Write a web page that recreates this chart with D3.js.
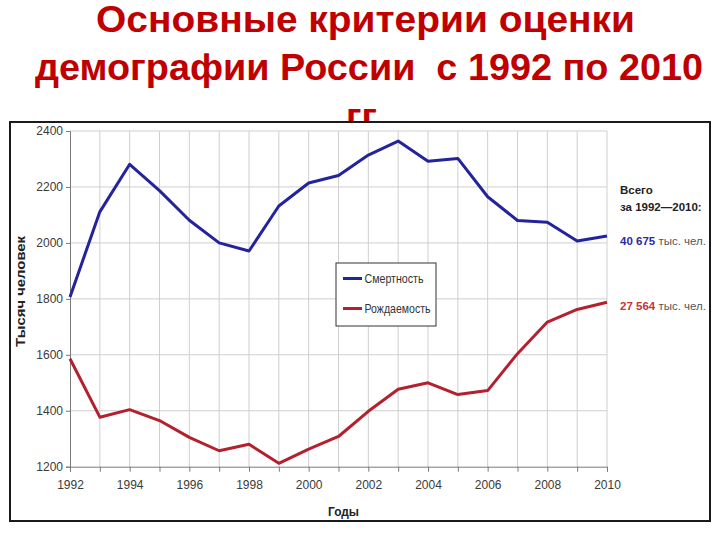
<!DOCTYPE html>
<html><head><meta charset="utf-8">
<script src="https://cdn.jsdelivr.net/npm/d3@7"></script>
<style>body{margin:0;background:#fff}svg{display:block}</style>
</head><body>
<script>
const years = d3.range(1992, 2011);
const mortality = [1807, 2111, 2281, 2187, 2081, 2000, 1971, 2132, 2214, 2241, 2314, 2364, 2292, 2302, 2165, 2080, 2074, 2007, 2025];
const births = [1586, 1377, 1404, 1365, 1305, 1257, 1280, 1212, 1263, 1308, 1398, 1477, 1500, 1458, 1472, 1604, 1717, 1762, 1788];
const yTicks = [1200, 1400, 1600, 1800, 2000, 2200, 2400];
const seriesNames = ["Смертность", "Рождаемость"];
const totals = ["40 675", "27 564"];
const titleLines = ["Основные критерии оценки", "демографии России  с 1992 по 2010", "гг."];

const W = 720, H = 540;
const svg = d3.select("body").append("svg").attr("width", W).attr("height", H);
const font = "'Liberation Sans', Arial, sans-serif";

// Title
const titleColor = "#c00000";
const tPos = [[96, 32, 539], [35, 80, 668], [346, 129, null]];
titleLines.forEach((t, i) => {
  const el = svg.append("text").attr("x", tPos[i][0]).attr("y", tPos[i][1])
    .attr("font-family", font).attr("font-weight", "bold").attr("xml:space", "preserve")
    .style("white-space", "pre")
    .attr("font-size", 37).attr("fill", titleColor).text(t);
  if (tPos[i][2]) el.attr("textLength", tPos[i][2]).attr("lengthAdjust", "spacingAndGlyphs");
});

// Chart frame
svg.append("rect").attr("x", 10).attr("y", 122).attr("width", 700).attr("height", 399)
  .attr("fill", "#fff").attr("stroke", "#1a1a1a").attr("stroke-width", 2);

const x = d3.scaleLinear().domain([1992, 2010]).range([70, 607]);
const y = d3.scaleLinear().domain([1200, 2400]).range([466.7, 131]);

const g = svg.append("g");
// gridlines
g.selectAll(".vg").data(years.slice(1)).enter().append("line")
  .attr("x1", d => x(d)).attr("x2", d => x(d)).attr("y1", y(2400)).attr("y2", y(1200))
  .attr("stroke", "#cfcfcf").attr("stroke-width", 1);
g.selectAll(".hg").data(yTicks.slice(1)).enter().append("line")
  .attr("x1", x(1992)).attr("x2", x(2010)).attr("y1", d => y(d)).attr("y2", d => y(d))
  .attr("stroke", "#cfcfcf").attr("stroke-width", 1);

// axes
const ax = svg.append("g").attr("transform", `translate(0,${y(1200)})`)
  .call(d3.axisBottom(x).tickValues(years).tickSize(5).tickPadding(9)
    .tickFormat(d => d % 2 === 0 ? String(d) : ""));
const ay = svg.append("g").attr("transform", `translate(${x(1992)},0)`)
  .call(d3.axisLeft(y).tickValues(yTicks).tickSize(4).tickPadding(3).tickFormat(d3.format("d")));
[ax, ay].forEach(a => {
  a.select(".domain").attr("stroke", "#7a7a7a");
  a.selectAll(".tick line").attr("stroke", "#7a7a7a");
  a.selectAll("text").attr("font-family", font).attr("font-size", 12).attr("fill", "#3a3a3a");
});

// lines
const blue = "#23239b", red = "#b3202e";
const line = d3.line().x((d, i) => x(years[i])).y(d => y(d));
svg.append("path").datum(mortality).attr("d", line).attr("fill", "none")
  .attr("stroke", blue).attr("stroke-width", 3).attr("stroke-linejoin", "round");
svg.append("path").datum(births).attr("d", line).attr("fill", "none")
  .attr("stroke", red).attr("stroke-width", 3).attr("stroke-linejoin", "round");

// legend
const lg = svg.append("g");
lg.append("rect").attr("x", 336).attr("y", 263).attr("width", 100).attr("height", 63)
  .attr("fill", "#fff").attr("stroke", "#333").attr("stroke-width", 1);
const legLen = [59, 66];
[[blue, 278.5], [red, 308.5]].forEach((c, i) => {
  lg.append("line").attr("x1", 343).attr("x2", 362).attr("y1", c[1]).attr("y2", c[1])
    .attr("stroke", c[0]).attr("stroke-width", 3);
  lg.append("text").attr("x", 364.5).attr("y", c[1] + 4.5).attr("font-family", font)
    .attr("font-size", 12).attr("fill", "#333")
    .attr("textLength", legLen[i]).attr("lengthAdjust", "spacingAndGlyphs").text(seriesNames[i]);
});

// axis titles
svg.append("text").attr("transform", "translate(25,291.5) rotate(-90)").attr("text-anchor", "middle")
  .attr("font-family", font).attr("font-weight", "bold").attr("font-size", 12).attr("fill", "#222")
  .attr("textLength", 111).attr("lengthAdjust", "spacingAndGlyphs")
  .text("Тысяч человек");
svg.append("text").attr("x", 328).attr("y", 516)
  .attr("font-family", font).attr("font-weight", "bold").attr("font-size", 12).attr("fill", "#222")
  .attr("textLength", 31).attr("lengthAdjust", "spacingAndGlyphs")
  .text("Годы");

// right annotations
svg.append("text").attr("x", 620).attr("y", 194).attr("font-family", font).attr("font-weight", "bold")
  .attr("font-size", 11.5).attr("fill", "#222").text("Всего");
svg.append("text").attr("x", 620).attr("y", 211).attr("font-family", font).attr("font-weight", "bold")
  .attr("font-size", 11.5).attr("fill", "#222").text("за 1992—2010:");
[[245, "#2b2ba3"], [309.5, "#c8323c"]].forEach((c, i) => {
  const t = svg.append("text").attr("x", 620).attr("y", c[0]).attr("font-family", font).attr("font-size", 11.5);
  t.append("tspan").attr("font-weight", "bold").attr("fill", c[1]).text(totals[i]);
  t.append("tspan").attr("fill", "#555").text(" тыс. чел.");
});
</script>
</body></html>
